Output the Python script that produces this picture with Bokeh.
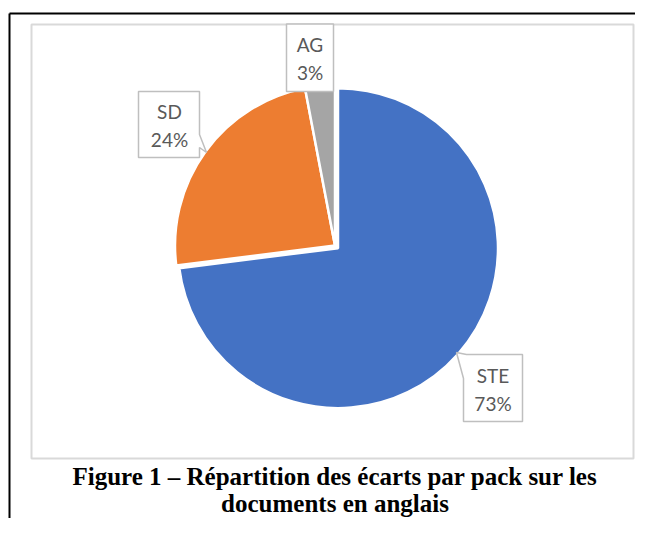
import numpy as np
from bokeh.plotting import figure
from bokeh.models import Range1d, ColumnDataSource
from bokeh.core.properties import value
from bokeh.embed import file_html
from bokeh.resources import INLINE

# ---- data ----
categories = ["STE", "SD", "AG"]
shares = [73, 24, 3]
colors = ["#4472C4", "#ED7D31", "#A5A5A5"]
caption_lines = ["Figure 1 \u2013 R\u00e9partition des \u00e9carts par pack sur les",
                 "documents en anglais"]

# ---- layout (picture pixel coordinates) ----
W, H = 635, 518


def Y(py):
    return H - py


p = figure(width=W, height=H, output_backend="svg", toolbar_location=None,
           x_range=Range1d(0, W), y_range=Range1d(0, H),
           min_border=0, outline_line_color=None)
p.axis.visible = False
p.grid.visible = False
p.background_fill_color = "white"

# outer black frame
p.line([9, 9], [Y(13), Y(H)], line_color="black", line_width=2)
p.line([9, W], [Y(13), Y(13)], line_color="black", line_width=2)

# chart area border
p.quad(left=31, right=633, top=Y(24), bottom=Y(458), fill_color="white",
       line_color="#d9d9d9", line_width=2)

# pie
cx, cy, r = 334.5, Y(245), 160
explode = [4.0, 0.0, 0.0]
fr = np.array(shares, dtype=float) / sum(shares)
cum_end = np.cumsum(fr)
cum_start = cum_end - fr
start = np.pi / 2 - cum_end * 2 * np.pi
end = np.pi / 2 - cum_start * 2 * np.pi
mid = (cum_start + cum_end) / 2 * 2 * np.pi
xs = cx + np.array(explode) * np.sin(mid)
ys = cy + np.array(explode) * np.cos(mid)
src = ColumnDataSource(dict(x=xs, y=ys, start=start, end=end, color=colors, cat=categories))
p.wedge(x="x", y="y", radius=r, start_angle="start", end_angle="end",
        fill_color="color", line_color="white", line_width=2.5, source=src)

# callout boxes (label layout)
boxes = {
    "AG": [(286, 23.5), (333, 23.5), (333, 91), (286, 91)],
    "SD": [(138, 91), (199, 91), (199, 134), (206, 152), (199, 147), (199, 157), (138, 157)],
    "STE": [(466, 354), (522, 354), (522, 421), (463, 421), (463, 378), (456, 352)],
}
label_pos = {"AG": (309.5, 44), "SD": (169, 111), "STE": (492.5, 375)}
for cat, s in zip(categories, shares):
    pts = boxes[cat]
    p.patch([q[0] for q in pts], [Y(q[1]) for q in pts], fill_color="white",
            line_color="#bfbfbf", line_width=1.5)
    lx, ly = label_pos[cat]
    p.text(x=[lx, lx], y=[Y(ly), Y(ly + 28)], text=[cat, f"{s}%"],
           text_font=value("Lato"), text_font_size="19px", text_color="#595959",
           text_align="center", text_baseline="middle")

# caption
p.text(x=[334.5, 334.5], y=[Y(476), Y(503)], text=caption_lines,
       text_font=value("Liberation Serif"), text_font_style="bold",
       text_font_size="25px", text_color="black",
       text_align="center", text_baseline="middle")

open("out.html", "w").write(file_html(p, INLINE))
